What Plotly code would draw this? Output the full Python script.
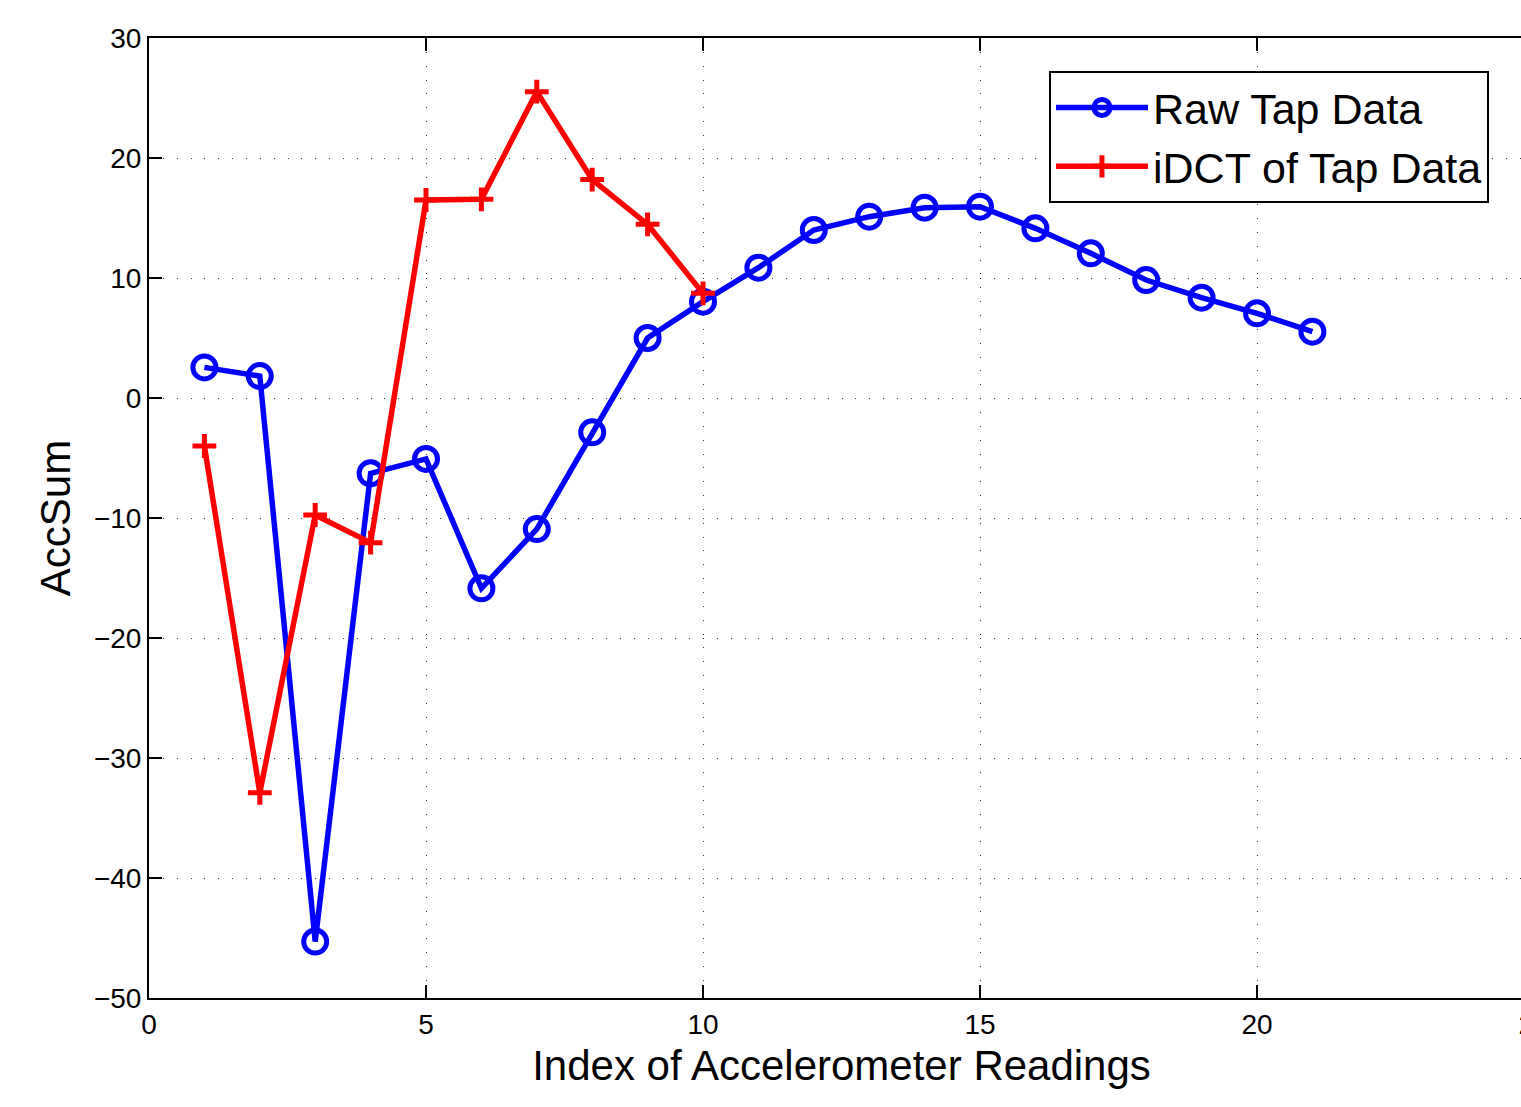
import plotly.graph_objects as go

# Data
raw_x = list(range(1, 22))
raw_y = [2.55, 1.83, -45.3, -6.28, -5.08, -15.86, -10.92, -2.86, 5.0, 8.03,
         10.86, 14.0, 15.11, 15.86, 15.94, 14.14, 12.06, 9.83, 8.36, 7.06, 5.53]
idct_x = list(range(1, 11))
idct_y = [-4.0, -32.9, -9.75, -12.06, 16.5, 16.56, 25.53, 18.2, 14.47, 8.72]

x_ticks = [0, 5, 10, 15, 20, 25]
y_ticks = [-50, -40, -30, -20, -10, 0, 10, 20, 30]
x_range = [0, 25]
y_range = [-50, 30]

FONT = "Liberation Sans, Arial, Helvetica, sans-serif"

fig = go.Figure()
fig.add_trace(go.Scatter(
    x=raw_x, y=raw_y, mode="lines+markers", name="Raw Tap Data",
    line=dict(color="#0000FF", width=5.5),
    marker=dict(symbol="circle-open", size=23, color="#0000FF",
                line=dict(color="#0000FF", width=5)),
))
fig.add_trace(go.Scatter(
    x=idct_x, y=idct_y, mode="lines+markers", name="iDCT of Tap Data",
    line=dict(color="#FF0000", width=5.5),
    marker=dict(symbol="cross-thin", size=17, color="#FF0000",
                line=dict(color="#FF0000", width=5)),
))

fig.update_layout(
    width=1570, height=1107,
    margin=dict(l=149, r=36, t=38, b=109),
    paper_bgcolor="white", plot_bgcolor="white",
    font=dict(family=FONT, color="black"),
    showlegend=True,
    legend=dict(x=0.6498, y=0.9656, xanchor="left", yanchor="top",
                bgcolor="white", bordercolor="black", borderwidth=2,
                font=dict(size=43, family=FONT, color="black"),
                itemwidth=92, tracegroupgap=0),
)
fig.update_xaxes(
    range=x_range, tickvals=x_ticks, ticks="inside", ticklen=13, tickwidth=1.5,
    tickcolor="black", showline=True, linecolor="black", linewidth=2,
    mirror="ticks", showgrid=True, gridcolor="#333333", gridwidth=1,
    griddash="1px,12.85px", zeroline=False, ticklabeloverflow="allow",
    tickfont=dict(size=28, family=FONT, color="black"),
    title=dict(text="Index of Accelerometer Readings",
               font=dict(size=42, family=FONT, color="black"), standoff=12),
)
fig.update_yaxes(
    range=y_range, tickvals=y_ticks, ticks="inside", ticklen=13, tickwidth=1.5,
    tickcolor="black", showline=True, linecolor="black", linewidth=2,
    mirror=False, showgrid=True, gridcolor="#333333", gridwidth=1,
    griddash="1px,12.85px", zeroline=False,
    tickfont=dict(size=28, family=FONT, color="black"),
    title=dict(text="AccSum", font=dict(size=42, family=FONT, color="black"),
               standoff=10),
)

fig.write_html(
    "out.html",
    config={"displayModeBar": False},
    post_script="document.body.style.margin='0px';"
                "document.documentElement.style.overflow='hidden';",
)
